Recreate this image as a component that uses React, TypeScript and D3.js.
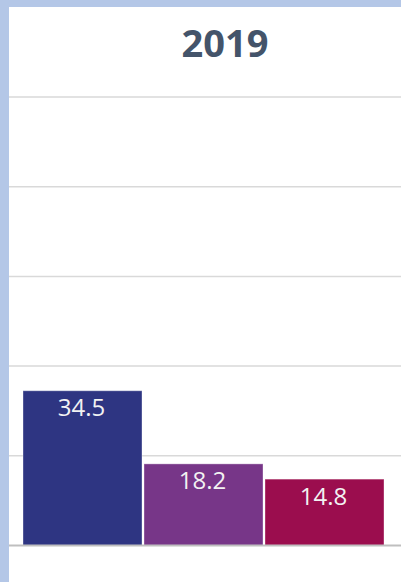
import * as d3 from 'd3';
import React, { useEffect, useRef } from 'react';

const title = '2019';
const categories = ['Series 1', 'Series 2', 'Series 3'];
const values = [34.5, 18.2, 14.8];
const colors = ['#2e3582', '#773688', '#9b0d4e'];
const yTicks = [0, 20, 40, 60, 80, 100];

const App = (): React.JSX.Element => {
	const chartRef = useRef<SVGSVGElement | null>(null);

	useEffect(() => {
		if (chartRef.current === null) return;
		d3.select(chartRef.current).selectAll('*').remove();

		const width = 401;
		const height = 582;

		const svg = d3.select(chartRef.current)
			.attr('width', width)
			.attr('height', height);

		// page frame
		svg.append('rect')
			.attr('width', width)
			.attr('height', height)
			.attr('fill', '#b4c7e7');
		svg.append('rect')
			.attr('x', 9)
			.attr('y', 7)
			.attr('width', width - 9)
			.attr('height', height - 7)
			.attr('fill', '#ffffff');

		const xScale = d3.scaleBand()
			.domain(categories)
			.range([23, 384])
			.paddingInner(0.0166);

		const yScale = d3.scaleLinear()
			.domain([0, 100])
			.range([545.5, 97]);

		svg.append('text')
			.attr('x', 225)
			.attr('y', 57)
			.attr('text-anchor', 'middle')
			.attr('font-family', '"Open Sans", sans-serif')
			.attr('font-weight', 700)
			.attr('font-size', '38px')
			.attr('fill', '#44546a')
			.text(title);

		svg.append('g')
			.selectAll('line')
			.data(yTicks.filter(t => t > 0))
			.enter()
			.append('line')
			.attr('x1', 9)
			.attr('x2', width)
			.attr('y1', d => yScale(d))
			.attr('y2', d => yScale(d))
			.attr('stroke', '#d9d9d9')
			.attr('stroke-width', 1.5);

		svg.append('g')
			.selectAll('rect')
			.data(values)
			.enter()
			.append('rect')
			.attr('x', (_, i) => xScale(categories[i]) ?? 0)
			.attr('y', d => yScale(d))
			.attr('width', xScale.bandwidth())
			.attr('height', d => yScale(0) - yScale(d))
			.attr('fill', (_, i) => colors[i])
			.attr('stroke', 'rgba(255,255,255,0.35)')
			.attr('stroke-width', 1);

		svg.append('line')
			.attr('x1', 9)
			.attr('x2', width)
			.attr('y1', yScale(0))
			.attr('y2', yScale(0))
			.attr('stroke', '#bfbfbf')
			.attr('stroke-width', 2);

		svg.append('g')
			.selectAll('text')
			.data(values)
			.enter()
			.append('text')
			.attr('x', (_, i) => (xScale(categories[i]) ?? 0) + xScale.bandwidth() / 2 - 1)
			.attr('y', d => yScale(d) + 25.5)
			.attr('text-anchor', 'middle')
			.attr('font-family', '"Open Sans", sans-serif')
			.attr('font-size', '24px')
			.attr('fill', '#f2f2f2')
			.text(d => d.toFixed(1));
	}, []);

	return (
		<svg ref={chartRef} style={{ position: 'absolute', left: 0, top: 0, display: 'block' }} />
	);
};

export default App;
